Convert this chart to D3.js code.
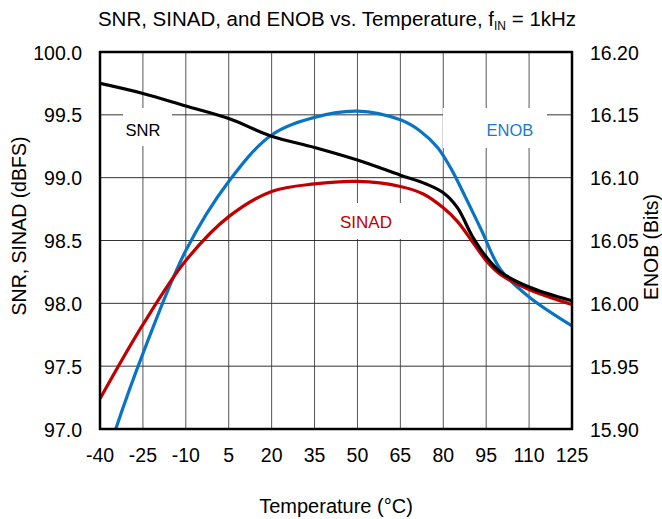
<!DOCTYPE html>
<html>
<head>
<meta charset="utf-8">
<script src="https://cdn.jsdelivr.net/npm/d3@7"></script>
<style>
  body { margin: 0; background: #fff; }
  text { font-family: "Liberation Sans", Arial, sans-serif; }
</style>
</head>
<body>
<svg id="chart" width="662" height="519"></svg>
<script>
// 数据
const xTicks = [-40, -25, -10, 5, 20, 35, 50, 65, 80, 95, 110, 125];
const leftTicks = [97.0, 97.5, 98.0, 98.5, 99.0, 99.5, 100.0];
const rightTicks = [15.90, 15.95, 16.00, 16.05, 16.10, 16.15, 16.20];

const snrTemp = [-40, -25, -10, 5, 20, 35, 50, 65, 74, 80, 85, 90, 95, 100, 110, 125];
const snrVal  = [99.75, 99.67, 99.57, 99.47, 99.33, 99.24, 99.14, 99.02, 98.95, 98.88, 98.76, 98.54, 98.37, 98.25, 98.13, 98.02];

const sinadTemp = [-40, -25, -10, 5, 20, 35, 50, 65, 73, 80, 85, 90.5, 95, 100, 110, 125];
const sinadVal  = [97.24, 97.83, 98.34, 98.69, 98.89, 98.95, 98.97, 98.93, 98.87, 98.76, 98.65, 98.48, 98.34, 98.23, 98.11, 97.99];

const enobTemp = [-40, -34.5, -25, -10, 5, 20, 35, 50, 65, 72, 78, 83, 87, 93.4, 100, 110, 125];
const enobVal  = [15.86, 15.900, 15.960, 16.042, 16.097, 16.134, 16.148, 16.153, 16.146, 16.137, 16.124, 16.106, 16.088, 16.058, 16.027, 16.005, 15.982];

// 尺寸
const margin = { left: 100, right: 90, top: 52, bottom: 90 };
const width = 662, height = 519;
const innerW = width - margin.left - margin.right;
const innerH = height - margin.top - margin.bottom;

const svg = d3.select("#chart");

const x = d3.scaleLinear().domain([-40, 125]).range([margin.left, margin.left + innerW]);
const yL = d3.scaleLinear().domain([97, 100]).range([margin.top + innerH, margin.top]);
const yR = d3.scaleLinear().domain([15.90, 16.20]).range([margin.top + innerH, margin.top]);

// 标题
const title = svg.append("text")
    .attr("x", 337).attr("y", 26)
    .attr("text-anchor", "middle")
    .attr("font-size", 20.5)
    .attr("fill", "#000");
title.append("tspan").text("SNR, SINAD, and ENOB vs. Temperature, f");
title.append("tspan").attr("font-size", 12).attr("dy", 4).text("IN");
title.append("tspan").attr("dy", -4).text(" = 1kHz");

// 网格
const grid = svg.append("g");
grid.selectAll("line.v")
    .data(xTicks.slice(1, -1))
    .join("line")
    .attr("x1", d => x(d)).attr("x2", d => x(d))
    .attr("y1", margin.top).attr("y2", margin.top + innerH)
    .attr("stroke", "#555").attr("stroke-width", 1);
grid.selectAll("line.h")
    .data(leftTicks.slice(1, -1))
    .join("line")
    .attr("x1", margin.left).attr("x2", margin.left + innerW)
    .attr("y1", d => yL(d)).attr("y2", d => yL(d))
    .attr("stroke", "#333").attr("stroke-width", 1);

// 标签背景（遮住网格）
const labelBoxes = [
    { x0: 123, y0: 108, x1: 172, y1: 146 },
    { x0: 443, y0: 108, x1: 547, y1: 148 },
    { x0: 322, y0: 203, x1: 410, y1: 239 }
];
svg.selectAll("rect.lbl")
    .data(labelBoxes)
    .join("rect")
    .attr("x", d => d.x0).attr("y", d => d.y0)
    .attr("width", d => d.x1 - d.x0).attr("height", d => d.y1 - d.y0)
    .attr("fill", "#fff");

// 裁剪
svg.append("clipPath").attr("id", "plotClip")
    .append("rect")
    .attr("x", margin.left).attr("y", margin.top)
    .attr("width", innerW).attr("height", innerH);

const curve = d3.curveCatmullRom.alpha(0.5);
const lineL = d3.line().x(d => x(d[0])).y(d => yL(d[1])).curve(curve);
const lineR = d3.line().x(d => x(d[0])).y(d => yR(d[1])).curve(curve);

const plot = svg.append("g").attr("clip-path", "url(#plotClip)");

plot.append("path")
    .datum(d3.zip(enobTemp, enobVal))
    .attr("d", lineR)
    .attr("fill", "none").attr("stroke", "#0a74c4").attr("stroke-width", 3.2);

plot.append("path")
    .datum(d3.zip(sinadTemp, sinadVal))
    .attr("d", lineL)
    .attr("fill", "none").attr("stroke", "#c00000").attr("stroke-width", 3.2);

plot.append("path")
    .datum(d3.zip(snrTemp, snrVal))
    .attr("d", lineL)
    .attr("fill", "none").attr("stroke", "#000").attr("stroke-width", 3.2);

// 边框
svg.append("rect")
    .attr("x", margin.left).attr("y", margin.top)
    .attr("width", innerW).attr("height", innerH)
    .attr("fill", "none").attr("stroke", "#000").attr("stroke-width", 2.5);

// 曲线标签
svg.append("text").attr("x", 143).attr("y", 136).attr("text-anchor", "middle")
    .attr("font-size", 16.5).attr("fill", "#000").text("SNR");
svg.append("text").attr("x", 510).attr("y", 136).attr("text-anchor", "middle")
    .attr("font-size", 16.5).attr("fill", "#1a7bc8").text("ENOB");
svg.append("text").attr("x", 366).attr("y", 228).attr("text-anchor", "middle")
    .attr("font-size", 17).attr("fill", "#c00000").text("SINAD");

// 坐标轴刻度
svg.append("g").selectAll("text")
    .data(xTicks)
    .join("text")
    .attr("x", d => x(d)).attr("y", 462)
    .attr("text-anchor", "middle")
    .attr("font-size", 19.5)
    .text(d => d);

svg.append("g").selectAll("text")
    .data(leftTicks)
    .join("text")
    .attr("x", 82).attr("y", d => yL(d) + 7.5)
    .attr("text-anchor", "end")
    .attr("font-size", 19.5)
    .text(d => d.toFixed(1));

svg.append("g").selectAll("text")
    .data(rightTicks)
    .join("text")
    .attr("x", 590).attr("y", d => yR(d) + 7.5)
    .attr("text-anchor", "start")
    .attr("font-size", 19.5)
    .text(d => d.toFixed(2));

// 轴标题
svg.append("text")
    .attr("transform", "translate(26, 226) rotate(-90)")
    .attr("text-anchor", "middle")
    .attr("font-size", 19.5)
    .text("SNR, SINAD (dBFS)");

svg.append("text")
    .attr("transform", "translate(658, 247) rotate(-90)")
    .attr("text-anchor", "middle")
    .attr("font-size", 19.5)
    .text("ENOB (Bits)");

svg.append("text")
    .attr("x", 336).attr("y", 513)
    .attr("text-anchor", "middle")
    .attr("font-size", 20)
    .text("Temperature (\u00B0C)");
</script>
</body>
</html>
